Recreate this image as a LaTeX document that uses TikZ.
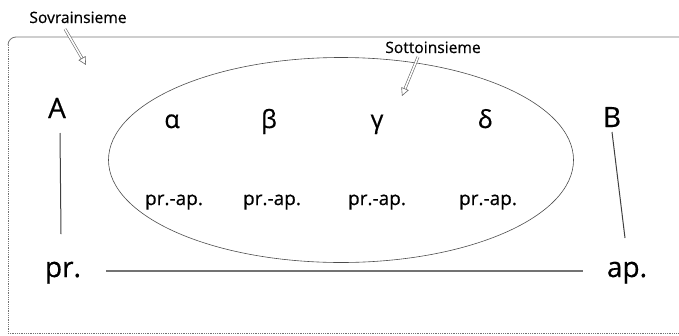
\documentclass[tikz,border=0pt]{standalone}
\usepackage{fontspec}
\setmainfont{Open Sans}[UprightFeatures={FakeBold=0.5}]
\usetikzlibrary{arrows.meta,shapes.geometric}
\begin{document}
\begin{tikzpicture}[x=1pt,y=-1pt,
  lbl/.style={inner sep=0pt, anchor=base, font=\fontsize{15.6}{18}\selectfont},
  big/.style={inner sep=0pt, anchor=base, font=\fontsize{28}{32}\selectfont},
  greek/.style={inner sep=0pt, anchor=base, font=\fontsize{25}{28}\selectfont},
  pa/.style={inner sep=0pt, anchor=base, font=\fontsize{19}{22}\selectfont},
  conn/.style={draw=black!75, line width=1pt},
  frame/.style={black!55, line width=0.8pt},
  pointer/.style={draw=black!60, double=white, double distance=1.6pt, line width=0.6pt, -{Triangle[open, length=8pt, width=8pt]}}]
\useasboundingbox (0,0) rectangle (679,335);
% outer set
\draw[frame] (8,45) arc[start angle=180, end angle=270, radius=8] -- (690,37);
\draw[frame, densely dotted] (8,45) -- (8,333) -- (679,333);
% ellipse
\node[draw=black!70, line width=0.6pt, ellipse, minimum width=465, minimum height=205, inner sep=0pt] (sub) at (341,160) {};
% labels
\node[lbl] (sov) at (78,23) {Sovrainsieme};
\node[lbl] (sot) at (433,53) {Sottoinsieme};
\coordinate (sovtail) at (65,29);
\coordinate (sovtip) at (86,65);
\coordinate (sottail) at (418,57);
\coordinate (sottip) at (402,96);
\draw[pointer] (sovtail) -- (sovtip);
\draw[pointer] (sottail) -- (sottip);
% letters
\node[big] (A) at (57,118) {A};
\node[big] (B) at (612,127) {B};
\node[greek] (al) at (172,128) {α};
\node[greek] (be) at (269,128) {β};
\node[greek] (ga) at (377,128) {γ};
\node[greek] (de) at (485,128) {δ};
\node[pa] (p1) at (174,205) {pr.-ap.};
\node[pa] (p2) at (272,205) {pr.-ap.};
\node[pa] (p3) at (377,205) {pr.-ap.};
\node[pa] (p4) at (488,205) {pr.-ap.};
\node[big] (pr) at (63,277) {pr.};
\node[big] (ap) at (627,277) {ap.};
% connectors
\coordinate (a1) at (60,133);
\coordinate (a2) at (61,234);
\coordinate (b1) at (612,132);
\coordinate (b2) at (625,238);
\coordinate (l1) at (106,271);
\coordinate (l2) at (583,271);
\draw[conn] (a1) -- (a2);
\draw[conn] (b1) -- (b2);
\draw[conn, draw=black!55, line width=1.2pt] (l1) -- (l2);
\end{tikzpicture}
\end{document}
